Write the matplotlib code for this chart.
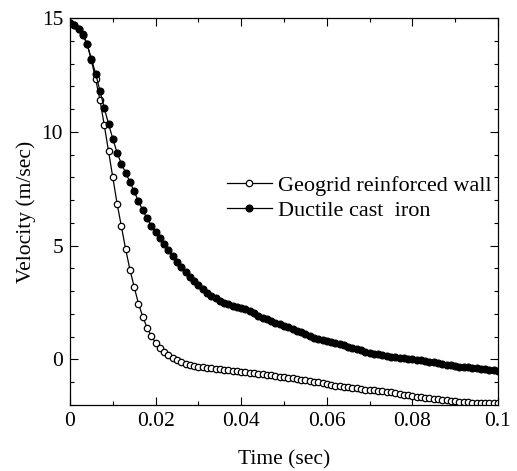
import numpy as np
import matplotlib.pyplot as plt
from matplotlib.ticker import MultipleLocator

plt.rcParams['font.family'] = 'Liberation Serif'
plt.rcParams['mathtext.fontset'] = 'stix'

# time axis, one sample per ms
time = np.arange(101) * 0.001

geogrid = [14.8, 14.7, 14.5, 14.3, 13.85, 13.15, 12.3, 11.4, 10.3, 9.15,
           8.0, 6.85, 5.85, 4.85, 3.95, 3.18, 2.45, 1.88, 1.4, 1.02,
           0.74, 0.5, 0.32, 0.2, 0.07, -0.04, -0.13, -0.19, -0.25, -0.28,
           -0.31, -0.34, -0.37, -0.39, -0.41, -0.44, -0.46, -0.48, -0.5, -0.52,
           -0.54, -0.56, -0.58, -0.6, -0.63, -0.65, -0.67, -0.7, -0.72, -0.75,
           -0.78, -0.8, -0.83, -0.86, -0.89, -0.92, -0.95, -0.98, -1.01, -1.04,
           -1.08, -1.12, -1.15, -1.18, -1.2, -1.22, -1.24, -1.27, -1.29, -1.32,
           -1.34, -1.36, -1.38, -1.4, -1.42, -1.45, -1.48, -1.51, -1.54, -1.57,
           -1.6, -1.63, -1.65, -1.68, -1.7, -1.73, -1.75, -1.77, -1.79, -1.81,
           -1.83, -1.85, -1.86, -1.88, -1.89, -1.9, -1.91, -1.92, -1.92, -1.93,
           -1.93]

ductile = [14.8, 14.7, 14.5, 14.25, 13.85, 13.2, 12.55, 11.8, 11.05, 10.35,
           9.7, 9.08, 8.6, 8.2, 7.8, 7.38, 6.95, 6.55, 6.2, 5.88,
           5.62, 5.35, 5.08, 4.8, 4.55, 4.3, 4.05, 3.83, 3.62, 3.43,
           3.26, 3.09, 2.93, 2.8, 2.68, 2.57, 2.49, 2.42, 2.37, 2.32,
           2.27, 2.22, 2.14, 2.03, 1.92, 1.84, 1.76, 1.69, 1.62, 1.55,
           1.48, 1.41, 1.34, 1.26, 1.19, 1.11, 1.03, 0.96, 0.9, 0.85,
           0.81, 0.77, 0.72, 0.68, 0.63, 0.57, 0.52, 0.46, 0.4, 0.35,
           0.3, 0.26, 0.22, 0.19, 0.16, 0.13, 0.1, 0.08, 0.05, 0.03,
           0.01, -0.01, -0.04, -0.07, -0.1, -0.13, -0.16, -0.19, -0.23, -0.26,
           -0.29, -0.31, -0.33, -0.35, -0.37, -0.39, -0.41, -0.43, -0.45, -0.47,
           -0.49]

fig = plt.figure(figsize=(5.17, 4.71), dpi=100)
ax = fig.add_axes([0.1354, 0.1401, 0.8278, 0.8217])

ax.plot(time, geogrid, 'k-', lw=0.9, marker='o', ms=4.6, mfc='white',
        mec='black', mew=0.9, label='Geogrid reinforced wall')
ax.plot(time, ductile, 'k-', lw=0.9, marker='o', ms=5.0, mfc='black',
        mec='black', mew=0.8, label='Ductile cast  iron')

ax.set_xlim(0, 0.1)
ax.set_ylim(-2, 15)
ax.xaxis.set_minor_locator(MultipleLocator(0.01))
ax.yaxis.set_major_locator(MultipleLocator(5))
ax.yaxis.set_minor_locator(MultipleLocator(1))
ax.set_xticks([0, 0.02, 0.04, 0.06, 0.08, 0.1])
ax.set_xticklabels(['0', '0.02', '0.04', '0.06', '0.08', '0.1'])
ax.tick_params(which='both', direction='in', top=True, right=True,
               labelsize=15.5, width=0.8)
ax.tick_params(which='major', length=6, pad=5)
ax.tick_params(which='minor', length=3)
for s in ax.spines.values():
    s.set_linewidth(0.9)

ax.set_xlabel('Time (sec)', fontsize=15.5, labelpad=14)
ax.set_ylabel('Velocity (m/sec)', fontsize=15.5, labelpad=4)

ax.legend(loc='upper left', bbox_to_anchor=(0.367, 0.594), frameon=False,
          fontsize=16, numpoints=1, handlelength=2.0, handletextpad=0.3,
          labelspacing=0.2, borderaxespad=0, borderpad=0)

plt.savefig('out.png', dpi=100)
